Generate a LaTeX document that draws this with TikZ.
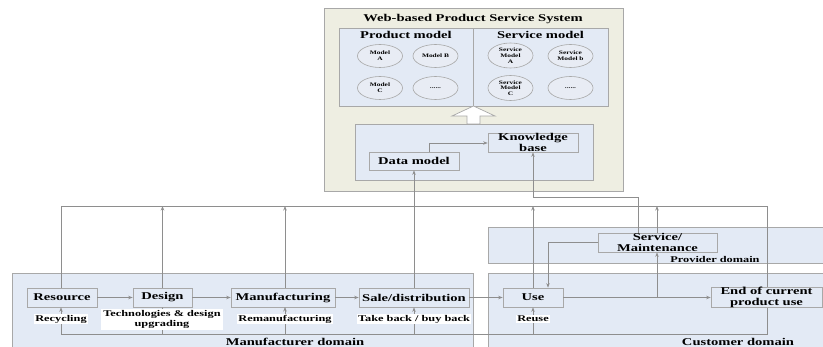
\documentclass[tikz,border=0pt]{standalone}
\usepackage{fontspec}
\setmainfont[FakeStretch=1.4]{Liberation Serif}
\usetikzlibrary{arrows.meta,shapes.geometric}
\definecolor{beigec}{HTML}{EEEEE2}
\definecolor{boxc}{HTML}{E3EAF5}
\definecolor{ellc}{HTML}{E8ECF4}
\definecolor{bordc}{HTML}{A8A8A8}
\definecolor{linec}{HTML}{8E8E8E}
\tikzset{
  region/.style={draw=bordc, line width=0.7pt, inner sep=0pt, anchor=north west},
  bx/.style={draw=bordc, fill=boxc, line width=0.7pt, inner sep=0pt, align=center,
     font=\fontsize{10.4}{10.5}\selectfont\bfseries},
  ell/.style={ellipse, draw=bordc, fill=ellc, line width=0.6pt, minimum width=45pt,
     minimum height=23pt, inner sep=0pt, align=center,
     font=\fontsize{5.3}{5.8}\selectfont\bfseries},
  lab/.style={fill=white, inner sep=1pt, align=center,
     font=\fontsize{8.8}{10}\selectfont\bfseries},
  ttl/.style={inner sep=0pt, align=center, font=\fontsize{10.4}{10.5}\selectfont\bfseries},
  ln/.style={draw=linec, line width=0.7pt},
  arr/.style={ln, -{Stealth[length=4.5pt,width=3.5pt]}},
}
\begin{document}
\begin{tikzpicture}[x=1pt,y=-1pt]
\useasboundingbox (0,0) rectangle (823,347);
% ---------- domains ----------
\node[region, fill=boxc, minimum width=461pt, minimum height=90pt] (mdom) at (12,273) {};
\node[region, fill=boxc, minimum width=345pt, minimum height=36pt] (pdom) at (488,227) {};
\node[region, fill=boxc, minimum width=345pt, minimum height=90pt] (cdom) at (488,273) {};
\node[ttl, anchor=base] (mlab) at (295,345.5) {Manufacturer domain};
\node[ttl, anchor=base] (clab) at (738,345.5) {Customer domain};
\node[ttl, font=\fontsize{8.8}{10}\selectfont\bfseries] (plab) at (715,259) {Provider domain};
% ---------- system ----------
\node[region, fill=beigec, minimum width=299pt, minimum height=183pt] (sys) at (324,8) {};
\node[ttl] (systtl) at (473,19) {Web-based Product Service System};
\node[region, fill=boxc, minimum width=134pt, minimum height=78pt] (ppan) at (339,28) {};
\node[region, fill=boxc, minimum width=135pt, minimum height=78pt] (span) at (473,28) {};
\node[ttl] (pttl) at (406,34.5) {Product model};
\node[ttl] (sttl) at (540.5,34.5) {Service model};
\node[ell] (ma) at (380,56) {Model\\A};
\node[ell] (mb) at (435.5,56) {Model B};
\node[ell] (mc) at (380,88) {Model\\C};
\node[ell] (md) at (435.5,88) {......};
\node[ell, minimum height=25pt] (sa) at (510.5,55.5) {Service\\Model\\A};
\node[ell] (sb) at (570.5,56) {Service\\Model b};
\node[ell, minimum height=25pt] (sc) at (510.5,88) {Service\\Model\\C};
\node[ell] (sd) at (570.5,88) {......};
\node[region, fill=boxc, minimum width=238pt, minimum height=56pt] (lpan) at (355,124) {};
\draw[draw=bordc, fill=white, line width=0.7pt]
  (467,124) -- (467,116) -- (452,116) -- (473.5,106) -- (495,116) -- (480,116) -- (480,124) -- cycle;
\node[bx, minimum width=90pt, minimum height=19pt] (kb) at (533,142.5) {Knowledge\\base};
\node[bx, minimum width=90pt, minimum height=18pt] (dm) at (414,161) {Data model};
\draw[arr] (dm.north -| 429,0) |- (kb.west |- 0,143);
% ---------- flow boxes ----------
\node[bx, minimum width=70pt, minimum height=19pt] (res) at (62,297.5) {Resource};
\node[bx, minimum width=59pt, minimum height=19pt] (des) at (162.5,297.5) {Design};
\node[bx, minimum width=104pt, minimum height=19pt] (man) at (283,297.5) {Manufacturing};
\node[bx, minimum width=110pt, minimum height=19pt] (sal) at (414,297.5) {Sale/distribution};
\node[bx, minimum width=60pt, minimum height=19pt] (use) at (533,297.5) {Use};
\node[bx, minimum width=111pt, minimum height=19pt] (eop) at (766.5,297.5) {End of current\\product use};
\node[bx, minimum width=119pt, minimum height=19pt] (svc) at (657.5,242.5) {Service/\\Maintenance};
% ---------- coordinates of the loop ----------
\coordinate (tl) at (61,206);
\coordinate (tr) at (767,206);
\coordinate (br) at (767,334);
\coordinate (bl) at (61,334);
\coordinate (kbl) at (533,197);
\draw[ln] (res.north -| tl) -- (tl) -- (tr) -- (br) -- (bl);
\draw[arr] (des.north) -- (des.north |- tl);
\draw[arr] (man.north -| 285,0) -- (285,206);
\draw[arr] (use.north) -- (use.north |- tl);
\draw[arr] (sal.north) -- (dm.south);
\draw[arr] (svc.north -| 638,0) |- (kbl) -- (kb.south);
\draw[arr] (svc.north -| 657,0) -- (657,206);
\draw[arr] (use.east) -- (eop.west);
\draw[arr] (657,297.5) -- (svc.south -| 657,0);
\draw[arr] (svc.west |- 0,242) -| (use.north -| 548,0);
\draw[arr] (res.east) -- (des.west);
\draw[arr] (des.east) -- (man.west);
\draw[arr] (man.east) -- (sal.west);
\draw[arr] (sal.east) -- (use.west);
\draw[arr] (bl) -- (res.south -| bl);
\draw[arr] (des.south |- bl) -- (des.south);
\draw[arr] (285,334) -- (285,307);
\draw[arr] (sal.south |- bl) -- (sal.south);
\draw[arr] (use.south |- bl) -- (use.south);
% redraw end box over the loop line
\node[bx, minimum width=111pt, minimum height=19pt] (eop2) at (766.5,297.5) {End of current\\product use};
% ---------- labels ----------
\node[lab] (lrec) at (61,319) {Recycling};
\node[lab, inner xsep=2pt] (ltec) at (162,319.5) {Technologies \& design\\upgrading};
\node[lab] (lrem) at (285,319) {Remanufacturing};
\node[lab] (ltak) at (414,319) {Take back / buy back};
\node[lab] (lreu) at (533,319) {Reuse};
\end{tikzpicture}
\end{document}
